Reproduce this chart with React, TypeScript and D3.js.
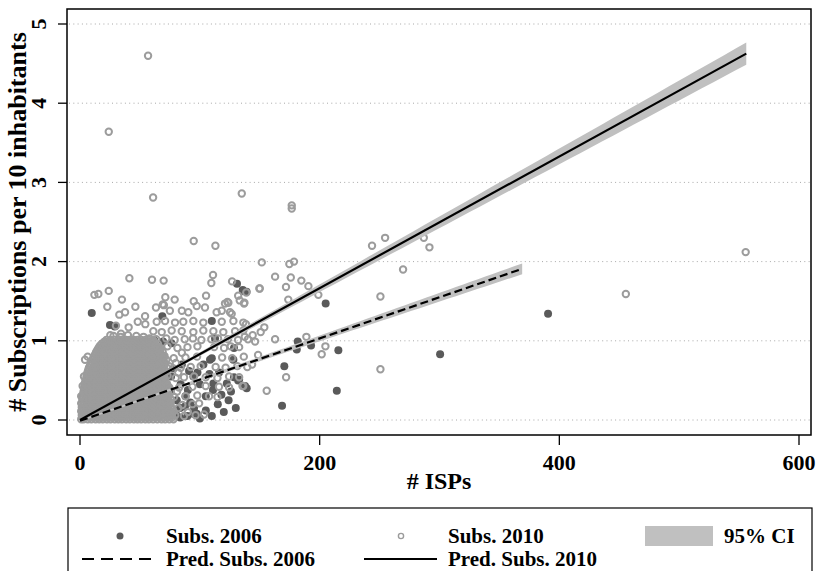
import React from "react";
import * as d3 from "d3";

const W = 820;
const H = 571;

const xTicks = [0, 200, 400, 600];
const yTicks = [0, 1, 2, 3, 4, 5];

// Subscriptions 2010: the dense block of municipalities with few ISPs, one row per value level
const core2010Rows: [number, number[]][] = [
  [0.01, [1, 3, 6.5, 9.5, 13, 16, 19, 22.5, 25.5, 29, 32, 35, 38.5, 41.5, 45, 48, 51, 54.5, 57.5, 61, 64.5, 68, 71, 74.5, 78]],
  [0.035, [2.5, 5.5, 9, 12.5, 15.5, 18.5, 22, 25, 28, 31.5, 34.5, 37.5, 41, 44, 47.5, 50.5, 53.5, 57, 60, 63.5, 67, 70, 73.5, 77]],
  [0.06, [1.5, 4.5, 8, 11, 14.5, 17.5, 20.5, 24, 27, 30.5, 33.5, 36.5, 40, 43, 46.5, 49.5, 52.5, 56, 59, 62.5, 66, 69.5, 72.5, 76, 79.5]],
  [0.085, [2.5, 5.5, 9, 12.5, 15.5, 18.5, 22, 25, 28, 31.5, 34.5, 37.5, 41, 44, 47.5, 50.5, 53.5, 57, 60, 63.5, 67, 70, 73.5, 77]],
  [0.11, [1, 3, 6.5, 9.5, 13, 16, 19, 22.5, 25.5, 29, 32, 35, 38.5, 41.5, 45, 48, 51, 54.5, 57.5, 61, 64.5, 68, 71, 74.5, 78]],
  [0.135, [2.5, 5.5, 9, 12.5, 15.5, 18.5, 22, 25, 28, 31.5, 34.5, 37.5, 41, 44, 47.5, 50.5, 53.5, 57, 60, 63.5, 67, 70, 73.5, 77]],
  [0.16, [1.5, 4.5, 8, 11, 14.5, 17.5, 20.5, 24, 27, 30.5, 33.5, 36.5, 40, 43, 46.5, 49.5, 52.5, 56, 59, 62.5, 66, 69.5, 72.5, 76]],
  [0.185, [2.5, 5.5, 9, 12.5, 15.5, 18.5, 22, 25, 28, 31.5, 34.5, 37.5, 41, 44, 47.5, 50.5, 53.5, 57, 60, 63.5, 67, 70, 73.5]],
  [0.21, [1, 3, 6.5, 9.5, 13, 16, 19, 22.5, 25.5, 29, 32, 35, 38.5, 41.5, 45, 48, 51, 54.5, 57.5, 61, 64.5, 68, 71, 74.5]],
  [0.235, [2.5, 5.5, 9, 12.5, 15.5, 18.5, 22, 25, 28, 31.5, 34.5, 37.5, 41, 44, 47.5, 50.5, 53.5, 57, 60, 63.5, 67, 70, 73.5]],
  [0.26, [2, 4.5, 8, 11, 14.5, 17.5, 20.5, 24, 27, 30.5, 33.5, 36.5, 40, 43, 46.5, 49.5, 52.5, 56, 59, 62.5, 66, 69.5, 72.5, 76]],
  [0.285, [2.5, 5.5, 9, 12.5, 15.5, 18.5, 22, 25, 28, 31.5, 34.5, 37.5, 41, 44, 47.5, 50.5, 53.5, 57, 60, 63.5, 67, 70, 73.5]],
  [0.31, [2.5, 5.5, 9, 12, 15.5, 19, 22.5, 25.5, 29, 32, 35, 38.5, 41.5, 45, 48, 51, 54.5, 57.5, 61, 64.5, 68, 71, 74.5]],
  [0.335, [3, 5.5, 9, 12.5, 15.5, 18.5, 22, 25, 28, 31.5, 34.5, 37.5, 41, 44, 47.5, 50.5, 53.5, 57, 60, 63.5, 67, 70, 73.5]],
  [0.36, [3, 7, 10.5, 14, 17, 20.5, 23.5, 27, 30, 33.5, 36.5, 40, 43, 46.5, 49.5, 52.5, 56, 59, 62, 65.5, 69, 72.5]],
  [0.385, [3.5, 5.5, 9, 12.5, 15.5, 18.5, 22, 25, 28, 31.5, 34.5, 37.5, 41, 44, 47.5, 50.5, 53.5, 57, 60, 63.5, 67, 70, 73]],
  [0.41, [3.5, 5.5, 9, 12, 15.5, 19, 22.5, 25.5, 29, 32, 35, 38.5, 41.5, 45, 48, 51, 54.5, 57.5, 61, 64.5, 68, 71, 74.5]],
  [0.435, [4, 6, 9, 12.5, 15.5, 18.5, 22, 25, 28, 31.5, 34.5, 37.5, 41, 44, 47.5, 50.5, 53.5, 57, 60, 63.5, 67, 70, 73]],
  [0.46, [4, 7.5, 11, 14, 17.5, 20.5, 24, 27, 30.5, 33.5, 37, 40, 43.5, 46.5, 50, 53, 56.5, 59.5, 62.5, 66, 69.5, 72.5]],
  [0.485, [4.5, 6.5, 9, 12.5, 15.5, 18.5, 22, 25, 28, 31.5, 34.5, 37.5, 41, 44, 47.5, 50.5, 53.5, 57, 60, 63.5, 67, 70]],
  [0.51, [5, 8, 11, 14, 17, 20, 23, 26, 29, 32, 35, 38.5, 41.5, 45, 48, 51, 54.5, 57.5, 61, 64.5, 68, 71]],
  [0.535, [5.5, 7, 9.5, 12.5, 15.5, 18.5, 22, 25, 28, 31.5, 34.5, 37.5, 41, 44, 47.5, 50.5, 53.5, 57, 60, 63.5, 67, 70.5]],
  [0.56, [5.5, 8.5, 12, 15, 18, 21, 24, 27, 30.5, 33.5, 36.5, 40, 43, 46.5, 49.5, 52.5, 56, 59, 62.5, 66, 69.5, 73]],
  [0.585, [6, 9, 12.5, 15.5, 18.5, 22, 25, 28, 31.5, 34.5, 37.5, 41, 44, 47.5, 50.5, 53.5, 57, 60, 63.5, 67, 70.5]],
  [0.61, [6.5, 9.5, 13, 16, 19, 22.5, 25.5, 29, 32, 35, 38.5, 41.5, 45, 48, 51, 54.5, 57.5, 61, 64.5, 68, 71.5]],
  [0.635, [7, 10, 12.5, 15.5, 18.5, 22, 25, 28, 31.5, 34.5, 37.5, 41, 44, 47.5, 50.5, 53.5, 57, 60, 63.5, 67, 70.5]],
  [0.66, [7.5, 11, 14.5, 17.5, 20.5, 24, 27, 30.5, 33.5, 36.5, 40, 43, 46.5, 49.5, 52.5, 56, 59, 62, 65.5, 69, 72.5]],
  [0.685, [8.3, 12.5, 15.5, 18.5, 22, 25, 28, 31.5, 34.5, 37.5, 41, 44, 47.5, 50.5, 53.5, 57, 60, 63.5, 67, 70]],
  [0.71, [9, 12.5, 16, 19, 22.5, 25.5, 29, 32, 35, 38.5, 41.5, 45, 48, 51, 54.5, 57.5, 61, 64.5, 68, 71]],
  [0.735, [9.8, 12.5, 15.5, 18.5, 22, 25, 28, 31.5, 34.5, 37.5, 41, 44, 47.5, 50.5, 53.5, 57, 60, 63.5, 67, 70]],
  [0.76, [10.5, 14, 17.5, 20.5, 24, 27, 30.5, 33.5, 36.5, 40, 43, 46.5, 49.5, 52.5, 56, 59, 62, 65.5, 69, 72]],
  [0.785, [11.3, 15.5, 18.5, 22, 25, 28, 31.5, 34.5, 37.5, 41, 44, 47.5, 50.5, 53.5, 57, 60, 63.5, 67, 70]],
  [0.81, [12, 15.5, 19, 22.5, 25.5, 29, 32, 35, 38.5, 41.5, 45, 48, 51, 54.5, 57.5, 61, 64.5, 68, 70.5]],
  [0.835, [12.8, 15.5, 18.5, 22, 25, 28, 31.5, 34.5, 37.5, 41, 44, 47.5, 50.5, 53.5, 57, 60, 63.5, 67]],
  [0.86, [13.5, 17, 20.5, 24, 27, 30.5, 33.5, 36.5, 40, 43, 46.5, 49.5, 52.5, 56, 59, 62, 65.5, 69]],
  [0.885, [14.5, 18.5, 22, 25, 28, 31.5, 34.5, 37.5, 41, 44, 47.5, 50.5, 53.5, 57, 60, 63.5, 67]],
  [0.91, [15.5, 19, 22.5, 25.5, 29, 32, 35, 38.5, 41.5, 45, 48, 51, 54.5, 57.5, 60, 63.5, 67]],
  [0.935, [16.5, 20, 22.5, 25, 28, 31.5, 34.5, 37.5, 41, 44, 47.5, 50.5, 53.5, 57, 60, 63.5]],
  [0.96, [18, 21, 24, 27, 30.5, 33.5, 36.5, 40, 43, 46.5, 49.5, 52.5, 56, 59, 62, 65]],
  [0.985, [20, 23, 25.5, 28, 31.5, 34.5, 37.5, 41, 44, 47.5, 50.5, 53.5, 57, 60, 62]],
  [1.01, [22, 25.5, 29, 32, 35, 38.5, 41.5, 45, 48, 51, 54.5, 57.5, 61]],
];

// Subscriptions 2010: every other municipality as [ISPs, subscriptions]
const subs2010Other: [number, number][] = [
  [28, 1.06], [34, 1.05], [40, 1.07], [47, 1.06], [53, 1.05], [58, 1.03],
  [1, 0.3], [2.2, 0.43], [3.3, 0.55], [4.2, 0.76], [6.4, 0.8],
  [56.8, 4.6], [24, 3.64], [61, 2.81], [135, 2.86], [176.7, 2.71], [176.7, 2.67],
  [555.5, 2.12], [455.5, 1.59],
  [94.9, 2.26], [113, 2.2], [151.7, 1.99], [174.7, 1.97], [178.6, 2.0], [162.8, 1.81],
  [175.9, 1.8], [184.7, 1.76], [190.6, 1.69], [171.9, 1.68], [150, 1.66], [198.9, 1.58],
  [173.8, 1.52], [136.9, 1.47], [243.7, 2.2], [254.6, 2.3], [269.6, 1.9], [286.9, 2.3],
  [291.6, 2.18], [250.7, 1.56], [162.8, 1.02], [153.8, 1.17], [150.8, 1.11], [144.1, 1.07],
  [146.1, 0.99], [137.5, 1.05], [188.9, 1.05], [204.8, 0.93], [201.7, 0.83], [148.6, 0.82],
  [143.6, 0.7], [172, 0.54], [155.8, 0.37], [250.7, 0.64], [136.3, 0.43], [138.5, 1.21],
  [41.2, 1.79], [60.1, 1.77], [69.8, 1.76], [111, 1.83], [109.6, 1.73], [126.9, 1.75],
  [138.8, 1.61], [149.7, 1.66], [12, 1.58], [15.3, 1.59], [24, 1.63], [35, 1.52],
  [71.2, 1.55], [79, 1.52], [94.9, 1.5], [105.2, 1.57], [123, 1.49], [133.3, 1.51],
  [137.2, 1.48], [22.8, 1.43], [46.2, 1.43], [63.4, 1.42], [69, 1.46],
  [32.8, 1.33], [37.6, 1.36], [54.3, 1.31], [30, 1.19], [40.6, 1.17], [48.2, 1.24],
  [54.5, 1.21], [25.3, 1.07], [34.2, 1.09],
  [70, 1.45], [75, 1.38], [85, 1.38], [90.4, 1.36], [97.4, 1.44], [104.3, 1.42],
  [114, 1.36], [118.3, 1.38], [125.2, 1.36], [123.8, 1.48], [132, 1.57], [121, 1.47], [126.6, 1.34],
  [64, 1.24], [71, 1.25], [79.3, 1.23], [86.2, 1.24], [94.6, 1.25], [102.9, 1.23],
  [118.3, 1.24], [128, 1.25], [136.3, 1.23],
  [61.2, 1.12], [68.2, 1.11], [76.5, 1.13], [84.9, 1.12], [94.6, 1.11], [102.9, 1.13],
  [111.3, 1.12], [119.6, 1.11], [129.4, 1.12], [136.3, 1.13],
  [63.6, 1.02], [72, 1.03], [79, 1.01], [87.4, 1.02], [94.3, 1.03], [101.3, 1.01],
  [109.6, 1.02], [115.2, 1.03], [123.5, 1.02], [131.9, 1.01], [140.2, 1.02],
  [64.6, 0.92], [73, 0.93], [81.3, 0.91], [89.7, 0.92], [98, 0.93], [111.9, 0.92],
  [120.2, 0.91], [125.8, 0.93], [132.8, 0.92],
  [60.1, 0.79], [69.9, 0.8], [78.2, 0.78], [88, 0.79], [97.7, 0.8], [118.6, 0.79],
  [127, 0.78], [136.7, 0.8],
  [64.6, 0.67], [74.3, 0.68], [84, 0.66], [92.4, 0.67], [100.7, 0.68], [113.2, 0.67],
  [121.5, 0.66], [131.3, 0.68], [139.6, 0.67],
  [61.8, 0.54], [70.1, 0.55], [79.9, 0.53], [86.8, 0.54], [95.2, 0.55], [104.9, 0.54],
  [114.7, 0.53], [124.4, 0.55], [132.8, 0.54],
  [64.6, 0.42], [73, 0.43], [82.7, 0.41], [93.8, 0.42], [104.9, 0.43], [116, 0.42],
  [124.4, 0.41], [135.6, 0.43],
  [61.8, 0.3], [70.1, 0.31], [78.5, 0.29], [88.2, 0.3], [97.9, 0.31], [107.7, 0.3], [114.7, 0.29],
  [67.4, 0.2], [75.7, 0.21], [85.4, 0.19], [93.8, 0.2], [99.4, 0.21],
  [64.6, 0.06], [75.7, 0.07], [86.8, 0.05], [96.5, 0.06], [103.5, 0.07],
  [80, 0.72], [82, 0.15], [90, 0.1], [85, 0.85], [82, 0.6], [81, 0.36],
];

// Subscriptions 2006 as [ISPs, subscriptions]
const subs2006: [number, number][] = [
  [9.8, 1.35], [25, 1.2], [29, 1.18], [68.7, 1.31], [61.8, 1.01], [61, 1.0], [69.3, 0.99],
  [76.3, 0.97], [110, 1.25], [112.7, 1.03], [108.5, 0.76], [110, 0.78], [128, 0.76],
  [128.5, 0.91], [131, 1.72], [135.8, 1.64], [136.3, 1.63], [139, 1.62], [205, 1.47],
  [181.7, 0.99], [180.9, 0.89], [192.8, 0.94], [215.6, 0.88], [170.5, 0.68], [214.3, 0.37],
  [168.6, 0.18], [300.5, 0.83], [390.6, 1.34], [139.1, 0.4], [137.7, 0.43], [128.5, 0.54],
  [132.8, 0.51], [132, 0.5], [122.5, 0.46], [111.3, 0.46], [111, 0.38], [94.6, 0.55],
  [66.8, 0.34], [75, 0.38], [80.7, 0.25], [83.5, 0.15], [94.6, 0.08], [97.4, 0.08], [64, 0.06],
  [72.9, 0.12], [79.9, 0.08], [89.6, 0.05], [95.2, 0.15], [87.6, 0.17], [83.5, 0.03],
  [85, 0.7], [91, 0.62], [76, 0.55], [100, 0.45], [105, 0.3], [115, 0.2], [120, 0.1],
  [100, 0.02], [110, 0.05], [88, 0.3], [92, 0.22], [70, 0.2], [60, 0.1], [98, 0.6],
  [103, 0.7], [116, 0.6], [124, 0.25], [130, 0.15], [56, 0.3], [58, 0.5], [50, 0.2],
  [105, 0.12], [118, 0.32], [126, 0.36], [84, 0.45], [78, 0.65], [90, 0.38], [108, 0.58],
];

// Linear fits with their standard-error parameters
const fit2006 = { intercept: -0.01, slope: 0.0052, xMax: 369, se0: 0.01, seSlope: 0.00019, xMean: 15 };
const fit2010 = { intercept: 0, slope: 0.00832, xMax: 556, se0: 0.012, seSlope: 0.00026, xMean: 20 };

const legendRow1 = ["Subs. 2006", "Subs. 2010", "95% CI"];
const legendRow2 = ["Pred. Subs. 2006", "Pred. Subs. 2010"];

const FONT = "'Liberation Serif', 'Times New Roman', serif";
const C_2006 = "#5a5a5a";
const C_2010 = "#9c9c9c";
const C_CI = "#c0c0c0";

type Fit = typeof fit2006;

export default function App() {
  const left = 67, right = 811, top = 9, bottom = 435;
  const x = d3.scaleLinear().domain([0, 600]).range([80, 799]);
  const y = d3.scaleLinear().domain([0, 5]).range([420, 24]);

  const pts2010: [number, number][] = [
    ...core2010Rows.flatMap(([v, xs]) => xs.map((i) => [i, v] as [number, number])),
    ...subs2010Other,
  ];

  const pred = (f: Fit, v: number) => f.intercept + f.slope * v;
  const half = (f: Fit, v: number) =>
    Math.sqrt(f.se0 * f.se0 + f.seSlope * f.seSlope * (v - f.xMean) * (v - f.xMean));

  const samples = (f: Fit) => d3.range(0, 61).map((k) => (f.xMax * k) / 60);
  const bandPath = (f: Fit) =>
    d3
      .area<number>()
      .x((v) => x(v))
      .y0((v) => y(pred(f, v) - half(f, v)))
      .y1((v) => y(pred(f, v) + half(f, v)))(samples(f)) || "";
  const linePath = (f: Fit) =>
    d3
      .line<number>()
      .x((v) => x(v))
      .y((v) => y(pred(f, v)))([0, f.xMax]) || "";

  // legend geometry
  const lgTop = 508;
  const r1 = 536;
  const r2 = 559;
  const colText = [166, 448, 724];
  const lgFont = 21;

  return (
    <svg
      width={W}
      height={H}
      style={{ position: "absolute", left: 0, top: 0, background: "#fff" }}
      fontFamily={FONT}
      fontWeight="bold"
    >
      <rect x={0} y={0} width={W} height={H} fill="#fff" />

      {/* grid */}
      {yTicks.map((t) => (
        <line
          key={"g" + t}
          x1={left + 2}
          x2={right - 1}
          y1={y(t)}
          y2={y(t)}
          stroke="#a8a8a8"
          strokeWidth={1}
          strokeDasharray="1 3.3"
        />
      ))}

      {/* scatter 2006 */}
      <g>
        {subs2006.map(([a, b], i) => (
          <circle key={"s6" + i} cx={x(a)} cy={y(b)} r={4} fill={C_2006} />
        ))}
      </g>

      {/* scatter 2010 */}
      <g>
        {pts2010.map(([a, b], i) => (
          <circle
            key={"s10" + i}
            cx={x(a)}
            cy={y(b)}
            r={3.2}
            fill="none"
            stroke={C_2010}
            strokeWidth={2}
          />
        ))}
      </g>

      {/* confidence bands */}
      <path d={bandPath(fit2006)} fill={C_CI} />
      <path d={bandPath(fit2010)} fill={C_CI} />

      {/* fitted lines */}
      <path d={linePath(fit2006)} fill="none" stroke="#000" strokeWidth={2.2} strokeDasharray="8 4" />
      <path d={linePath(fit2010)} fill="none" stroke="#000" strokeWidth={2.2} />

      {/* frame */}
      <rect x={left} y={top} width={right - left} height={bottom - top} fill="none" stroke="#000" strokeWidth={1.5} />

      {/* y axis */}
      {yTicks.map((t) => (
        <g key={"yt" + t}>
          <line x1={58} x2={left} y1={y(t)} y2={y(t)} stroke="#000" strokeWidth={1.3} />
          <text
            transform={`translate(46,${y(t)}) rotate(-90)`}
            textAnchor="middle"
            fontSize={22}
            fill="#000"
          >
            {t}
          </text>
        </g>
      ))}
      <text
        transform={`translate(26,${(top + bottom) / 2}) rotate(-90)`}
        textAnchor="middle"
        fontSize={26}
        fill="#000"
      >
        # Subscriptions per 10 inhabitants
      </text>

      {/* x axis */}
      {xTicks.map((t) => (
        <g key={"xt" + t}>
          <line x1={x(t)} x2={x(t)} y1={bottom} y2={bottom + 10} stroke="#000" strokeWidth={1.3} />
          <text x={x(t)} y={470} textAnchor="middle" fontSize={22} fill="#000">
            {t}
          </text>
        </g>
      ))}
      <text x={(left + right) / 2} y={489} textAnchor="middle" fontSize={24} fill="#000">
        # ISPs
      </text>

      {/* legend */}
      <rect x={68} y={lgTop} width={744} height={80} fill="#fff" stroke="#000" strokeWidth={1.2} />
      <circle cx={120} cy={r1} r={3.5} fill={C_2006} />
      <circle cx={401} cy={r1} r={2.6} fill="none" stroke={C_2010} strokeWidth={1.4} />
      <rect x={645} y={r1 - 10} width={68} height={20} fill={C_CI} />
      {legendRow1.map((s, i) => (
        <text key={"l1" + i} x={colText[i]} y={r1 + 7} fontSize={lgFont} fill="#000">
          {s}
        </text>
      ))}
      <line x1={82} x2={152} y1={r2} y2={r2} stroke="#000" strokeWidth={2} strokeDasharray="12 7" />
      <line x1={364} x2={437} y1={r2} y2={r2} stroke="#000" strokeWidth={2} />
      {legendRow2.map((s, i) => (
        <text key={"l2" + i} x={colText[i]} y={r2 + 7} fontSize={lgFont} fill="#000">
          {s}
        </text>
      ))}
    </svg>
  );
}
